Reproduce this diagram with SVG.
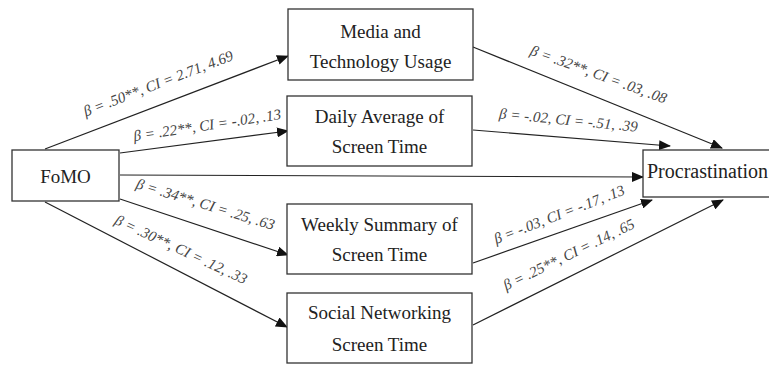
<svg xmlns="http://www.w3.org/2000/svg" width="769" height="365" viewBox="0 0 769 365">
<style>
.box{fill:#fff;stroke:#333;stroke-width:1.3}
.nt{font-family:"Liberation Serif","Times New Roman","DejaVu Serif",serif;font-size:19px;fill:#222;text-anchor:middle}
.lb{font-family:"Liberation Serif","Times New Roman","DejaVu Serif",serif;font-size:15px;font-style:italic;fill:#444;text-anchor:middle}
.cn{stroke:#222;stroke-width:1.2;fill:none;marker-end:url(#ah)}
</style>
<defs>
<marker id="ah" markerWidth="12" markerHeight="10" refX="11" refY="5" orient="auto" markerUnits="userSpaceOnUse">
<path d="M0,0 L12,5 L0,10 Z" fill="#111"/>
</marker>
</defs>
<rect width="769" height="365" fill="#fff"/>
<g id="connectors">
<line class="cn" x1="45" y1="149" x2="288" y2="56"/>
<line class="cn" x1="120" y1="153" x2="288" y2="131"/>
<line class="cn" x1="120" y1="175" x2="643" y2="177"/>
<line class="cn" x1="120" y1="199" x2="288" y2="255"/>
<line class="cn" x1="45" y1="202" x2="287" y2="327"/>
<line class="cn" x1="473" y1="47" x2="722" y2="148"/>
<line class="cn" x1="473" y1="130" x2="670" y2="146"/>
<line class="cn" x1="473" y1="263" x2="652" y2="200"/>
<line class="cn" x1="473" y1="325" x2="723" y2="200"/>
</g>
<g id="labels">
<text class="lb" transform="translate(160,88) rotate(-21)">β = .50**, CI = 2.71, 4.69</text>
<text class="lb" transform="translate(208,130) rotate(-8.5)">β = .22**, CI = -.02, .13</text>
<text class="lb" transform="translate(204,209) rotate(17)">β = .34**, CI = .25, .63</text>
<text class="lb" transform="translate(179,254) rotate(25)">β = .30**, CI = .12, .33</text>
<text class="lb" transform="translate(597,79) rotate(20)">β = .32**, CI = .03, .08</text>
<text class="lb" transform="translate(568,125) rotate(5.5)">β = -.02, CI = -.51, .39</text>
<text class="lb" transform="translate(561,219) rotate(-21)">β = -.03, CI = -.17, .13</text>
<text class="lb" transform="translate(571,259) rotate(-26)">β = .25**, CI = .14, .65</text>
</g>
<g id="fomo">
<rect class="box" x="12" y="150" width="107" height="51"/>
<text class="nt" x="65.5" y="183">FoMO</text>
</g>
<g id="media">
<rect class="box" x="288" y="9" width="185" height="71"/>
<text class="nt" x="380.5" y="38">Media and</text>
<text class="nt" x="380.5" y="68">Technology Usage</text>
</g>
<g id="daily">
<rect class="box" x="287" y="96" width="185" height="70"/>
<text class="nt" x="379.5" y="123">Daily Average of</text>
<text class="nt" x="379.5" y="153">Screen Time</text>
</g>
<g id="weekly">
<rect class="box" x="287" y="204" width="185" height="70"/>
<text class="nt" x="379.5" y="231">Weekly Summary of</text>
<text class="nt" x="379.5" y="261">Screen Time</text>
</g>
<g id="social">
<rect class="box" x="287" y="293" width="185" height="70"/>
<text class="nt" x="379.5" y="319">Social Networking</text>
<text class="nt" x="379.5" y="351">Screen Time</text>
</g>
<g id="procrastination">
<rect class="box" x="643" y="150" width="130" height="47"/>
<text class="nt" x="647" y="178" style="text-anchor:start;font-size:20px">Procrastination</text>
</g>
</svg>
